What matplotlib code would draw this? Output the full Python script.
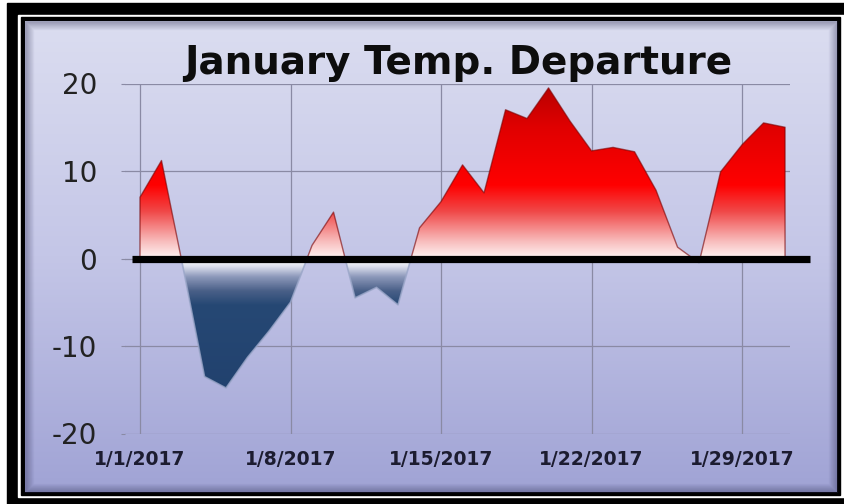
import numpy as np
import pandas as pd
import matplotlib
matplotlib.use('Agg')
import matplotlib.pyplot as plt
import matplotlib.dates as mdates
from matplotlib.colors import LinearSegmentedColormap
from matplotlib.patches import Rectangle
from matplotlib.path import Path
matplotlib.rcParams['axes.unicode_minus'] = False

# daily departure from normal (deg F), Jan 2017
dates = pd.date_range('2017-01-01', '2017-01-31')
departure = np.array([7.0, 11.2, -1.0, -13.5, -14.8, -11.3, -8.3, -5.0, 1.5, 5.3,
                      -4.5, -3.3, -5.3, 3.5, 6.5, 10.7, 7.5, 17.0, 16.0, 19.5,
                      15.7, 12.3, 12.7, 12.2, 7.8, 1.3, -0.5, 9.9, 13.0, 15.5, 15.0])
yticks = [-20, -10, 0, 10, 20]
title = 'January Temp. Departure'

W, H = 845, 504
fig = plt.figure(figsize=(W / 100, H / 100), dpi=100)

# frame + gradient panel, drawn in pixel coords
bg = fig.add_axes([0, 0, 1, 1])
bg.set_xlim(0, W)
bg.set_ylim(H, 0)
bg.axis('off')
bg.add_patch(Rectangle((7, 3), W, H, color='black'))
bg.add_patch(Rectangle((18, 15), W, 482, color='white'))
bg.add_patch(Rectangle((21, 17), 819, 478, color='black'))
panel_grad = np.linspace(0, 1, 256).reshape(-1, 1)
panel_cmap = LinearSegmentedColormap.from_list('panel', ['#dbddf0', '#c4c6e7', '#a0a3d5'])
bg.imshow(panel_grad, cmap=panel_cmap, extent=[25, 837, 492, 21], aspect='auto', zorder=1)
for i in range(9):
    bg.add_patch(Rectangle((25 + i, 21 + i), 812 - 2 * i, 471 - 2 * i, fill=False,
                           edgecolor='#2a2a50', lw=1.0, alpha=0.3 * (1 - i / 9), zorder=2))

# main chart
ax = fig.add_axes([125 / W, 1 - 433.5 / H, 665 / W, 350 / H])
ax.patch.set_alpha(0)
x = mdates.date2num(dates)
x0 = x[0]
ax.set_xlim(x0 - 0.698, x0 + 30.23)
ax.set_ylim(-20, 20)
for s in ax.spines.values():
    s.set_visible(False)

ax.set_yticks(yticks)
ax.set_xticks(x[::7])
ax.xaxis.set_major_formatter(mdates.DateFormatter('%-m/%-d/%Y'))
ax.grid(True, color='#8a8aa4', lw=0.9)
ax.set_axisbelow(True)
ax.tick_params(axis='y', length=3, color='#8a8aa4', pad=17, labelsize=20, labelcolor='#222222')
ax.tick_params(axis='x', length=0, pad=12, labelsize=13.5, labelcolor='#1c1c30')
for lab in ax.get_xticklabels():
    lab.set_fontweight('bold')

# red / blue areas with value-based gradient
red_cmap = LinearSegmentedColormap.from_list('red', [
    (0.0, '#fff6f6'), (0.1, '#f8bcbc'), (0.27, '#f04848'), (0.42, '#ff0000'),
    (0.75, '#e00000'), (1.0, '#b50000')])
blue_cmap = LinearSegmentedColormap.from_list('blue', [
    (0.0, '#1f3e6b'), (0.74, '#264874'), (0.82, '#4a6088'), (0.9, '#8c98ba'),
    (0.96, '#dde0ee'), (1.0, '#ffffff')])

pos = ax.fill_between(x, departure, 0, where=departure >= 0, interpolate=True,
                      facecolor='none', edgecolor='#7a0000', lw=1.0, alpha=0.6, zorder=3)
neg = ax.fill_between(x, departure, 0, where=departure <= 0, interpolate=True,
                      facecolor='none', edgecolor='#9aa6c8', lw=1.2, alpha=0.8, zorder=3)

xl = ax.get_xlim()
g = np.linspace(0, 1, 256).reshape(-1, 1)
im_r = ax.imshow(g, cmap=red_cmap, extent=[xl[0], xl[1], 0, 20], origin='lower',
                 aspect='auto', zorder=2)
im_r.set_clip_path(Path.make_compound_path(*pos.get_paths()), ax.transData)
im_b = ax.imshow(g, cmap=blue_cmap, extent=[xl[0], xl[1], -20, 0], origin='lower',
                 aspect='auto', zorder=2)
im_b.set_clip_path(Path.make_compound_path(*neg.get_paths()), ax.transData)
ax.set_xlim(xl)
ax.set_ylim(-20, 20)

# heavy zero line running past the plot edge
ax.plot([x0 - 0.37, x0 + 31.16], [0, 0], color='black', lw=5.2,
        solid_capstyle='butt', clip_on=False, zorder=5)

fig.text(458 / W, 1 - 74 / H, title, ha='center', va='baseline',
         fontsize=28, fontweight='bold', color='#0d0d0d')

plt.savefig('out.png', dpi=100)
